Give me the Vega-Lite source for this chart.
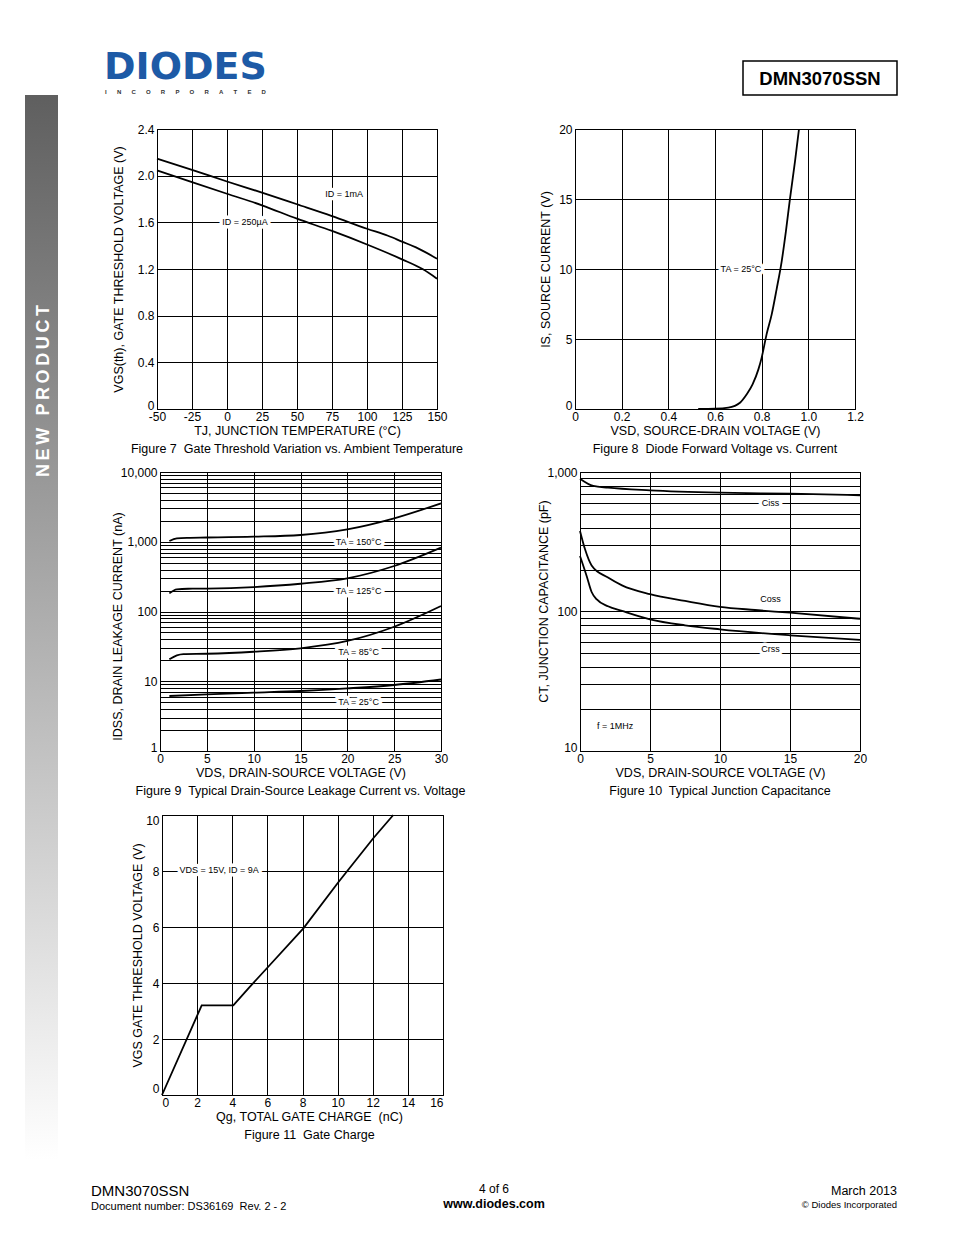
{
"$schema": "https://vega.github.io/schema/vega-lite/v6.json",
"padding": 0,
"background": "white",
"spacing": 0,
"datasets": {
"f7": [
{"s":"1mA","t":-50,"v":2.145},{"s":"1mA","t":-25,"v":2.05},{"s":"1mA","t":0,"v":1.95},{"s":"1mA","t":25,"v":1.855},{"s":"1mA","t":50,"v":1.755},{"s":"1mA","t":75,"v":1.654},{"s":"1mA","t":100,"v":1.545},{"s":"1mA","t":115,"v":1.485},{"s":"1mA","t":125,"v":1.435},{"s":"1mA","t":135,"v":1.385},{"s":"1mA","t":150,"v":1.288},
{"s":"250uA","t":-50,"v":2.046},{"s":"250uA","t":-25,"v":1.945},{"s":"250uA","t":0,"v":1.845},{"s":"250uA","t":25,"v":1.746},{"s":"250uA","t":50,"v":1.631},{"s":"250uA","t":75,"v":1.526},{"s":"250uA","t":100,"v":1.41},{"s":"250uA","t":125,"v":1.283},{"s":"250uA","t":140,"v":1.197},{"s":"250uA","t":150,"v":1.117}
],
"f7lab": [{"t":83.6,"v":1.843,"lab":"ID = 1mA"},{"t":12.9,"v":1.6,"lab":"ID = 250µA"}],
"f8": [
{"vsd":0.528,"is":0},{"vsd":0.6,"is":0.02},{"vsd":0.657,"is":0.1},{"vsd":0.707,"is":0.45},{"vsd":0.736,"is":1.05},{"vsd":0.761,"is":1.76},{"vsd":0.786,"is":2.83},{"vsd":0.8,"is":3.67},{"vsd":0.821,"is":5.33},{"vsd":0.843,"is":6.76},{"vsd":0.864,"is":8.55},{"vsd":0.886,"is":10.57},{"vsd":0.904,"is":12.7},{"vsd":0.921,"is":14.98},{"vsd":0.943,"is":17.7},{"vsd":0.96,"is":20}
],
"f8lab": [{"vsd":0.711,"is":10,"lab":"TA = 25°C"}],
"f9": [
{"s":"150","vds":1,"i":1025},{"s":"150","vds":1.8,"i":1120},{"s":"150","vds":3,"i":1140},{"s":"150","vds":5,"i":1150},{"s":"150","vds":10,"i":1181},{"s":"150","vds":15,"i":1250},{"s":"150","vds":20,"i":1507},{"s":"150","vds":25,"i":2168},{"s":"150","vds":30,"i":3556},
{"s":"125","vds":1,"i":182},{"s":"125","vds":1.8,"i":208},{"s":"125","vds":3,"i":212},{"s":"125","vds":5,"i":213},{"s":"125","vds":10,"i":224},{"s":"125","vds":15,"i":250},{"s":"125","vds":20,"i":299},{"s":"125","vds":25,"i":449},{"s":"125","vds":30,"i":822},
{"s":"85","vds":1,"i":20.6},{"s":"85","vds":1.8,"i":23.5},{"s":"85","vds":2.5,"i":24.5},{"s":"85","vds":5,"i":24.8},{"s":"85","vds":10,"i":26.5},{"s":"85","vds":15,"i":29.7},{"s":"85","vds":20,"i":37.8},{"s":"85","vds":25,"i":60.5},{"s":"85","vds":30,"i":120},
{"s":"25","vds":1,"i":6.15},{"s":"25","vds":5,"i":6.49},{"s":"25","vds":10,"i":6.86},{"s":"25","vds":15,"i":7.25},{"s":"25","vds":20,"i":7.9},{"s":"25","vds":25,"i":8.84},{"s":"25","vds":30,"i":10.6}
],
"f9lab": [{"vds":21.2,"i":1000,"lab":"TA = 150°C"},{"vds":21.2,"i":200,"lab":"TA = 125°C"},{"vds":21.2,"i":26,"lab":"TA = 85°C"},{"vds":21.2,"i":5,"lab":"TA = 25°C"}],
"f10": [
{"s":"Ciss","vds":0,"c":895},{"s":"Ciss","vds":0.95,"c":794},{"s":"Ciss","vds":2,"c":772},{"s":"Ciss","vds":5,"c":739},{"s":"Ciss","vds":10,"c":711},{"s":"Ciss","vds":15,"c":699},{"s":"Ciss","vds":20,"c":681},
{"s":"Coss","vds":0,"c":378},{"s":"Coss","vds":0.36,"c":279},{"s":"Coss","vds":0.83,"c":214},{"s":"Coss","vds":2,"c":175},{"s":"Coss","vds":3,"c":154},{"s":"Coss","vds":5,"c":133},{"s":"Coss","vds":7.5,"c":119},{"s":"Coss","vds":10,"c":108},{"s":"Coss","vds":12.5,"c":102.5},{"s":"Coss","vds":15,"c":98},{"s":"Coss","vds":20,"c":88.7},
{"s":"Crss","vds":0,"c":250},{"s":"Crss","vds":0.48,"c":179},{"s":"Crss","vds":0.83,"c":138},{"s":"Crss","vds":1.2,"c":122},{"s":"Crss","vds":2,"c":109},{"s":"Crss","vds":3,"c":101},{"s":"Crss","vds":5,"c":87.9},{"s":"Crss","vds":7.5,"c":79.6},{"s":"Crss","vds":10,"c":74.5},{"s":"Crss","vds":15,"c":67.5},{"s":"Crss","vds":20,"c":62.5}
],
"f10lab": [{"vds":13.6,"c":600,"lab":"Ciss"},{"vds":13.6,"c":123,"lab":"Coss"},{"vds":13.6,"c":54,"lab":"Crss"},{"vds":2.5,"c":15,"lab":"f = 1MHz"}],
"f11": [
{"q":0,"vgs":0},{"q":2.26,"vgs":3.2},{"q":4.06,"vgs":3.2},{"q":5.01,"vgs":3.87},{"q":6.05,"vgs":4.58},{"q":8.05,"vgs":5.95},{"q":10.04,"vgs":7.6},{"q":12.03,"vgs":9.17},{"q":13.17,"vgs":10}
],
"f11lab": [{"q":3.25,"vgs":8.05,"lab":"VDS = 15V, ID = 9A"}]
},
"hconcat": [
{"width":25,"height":1235,"data":{"values":[{}]},"mark":{"type":"text","text":""},"encoding":{}},
{"spacing":0,"vconcat":[
 {"width":33,"height":95,"data":{"values":[{}]},"mark":{"type":"text","text":""},"encoding":{}},
 {"width":33,"height":1095,"data":{"values":[{"t":"N\u2009E\u2009W\u2009 \u2009P\u2009R\u2009O\u2009D\u2009U\u2009C\u2009T"}]},
  "layer":[
   {"mark":{"type":"rect","strokeWidth":0,"fill":{"gradient":"linear","x1":0,"y1":0,"x2":0,"y2":1,"stops":[{"offset":0,"color":"#5f5f5f"},{"offset":0.9726,"color":"#ffffff"},{"offset":1,"color":"#ffffff"}]}},"encoding":{}},
   {"mark":{"type":"text","angle":270,"fontSize":18,"fontWeight":"bold","color":"#fff","baseline":"middle","align":"center","dx":251.5,"dy":2},"encoding":{"text":{"field":"t"}}}
  ]}
]},
{"spacing":0,"vconcat":[
 {"width":896,"height":49,"data":{"values":[{}]},"mark":{"type":"text","text":""},"encoding":{}},
 {"spacing":0,"bounds":"flush","hconcat":[
  {"width":45,"height":61,"data":{"values":[{}]},"mark":{"type":"text","text":""},"encoding":{}},
  {"width":165,"height":34,
   "layer":[
    {"data":{"values":[{"t":"DIODES"}]},"mark":{"type":"text","font":"DejaVu Sans","fontSize":38,"fontWeight":"bold","color":"#1d5aa6","baseline":"alphabetic","align":"center","dy":1},"encoding":{"text":{"field":"t"}}},
    {"data":{"values":[{"t":"I\u2003\u2002\u2009N\u2003\u2002\u2009C\u2003\u2002\u2009O\u2003\u2002\u2009R\u2003\u2002\u2009P\u2003\u2002\u2009O\u2003\u2002\u2009R\u2003\u2002\u2009A\u2003\u2002\u2009T\u2003\u2002\u2009E\u2003\u2002\u2009D"}]},"mark":{"type":"text","fontSize":6,"fontWeight":"bold","color":"#333","baseline":"alphabetic","align":"center","dy":16.3},"encoding":{"text":{"field":"t"}}}
   ]},
  {"width":475,"height":34,"data":{"values":[{}]},"mark":{"type":"text","text":""},"encoding":{}},
  {"width":154,"height":34,"view":{"stroke":"#000","strokeWidth":1.5},"data":{"values":[{"t":"DMN3070SSN"}]},"mark":{"type":"text","fontSize":18.5,"fontWeight":"bold","color":"#000","baseline":"middle","align":"center","dy":1},"encoding":{"text":{"field":"t"}}}
 ]},
 {"spacing":0,"bounds":"flush","hconcat":[
  {"width":99,"height":336,"data":{"values":[{}]},"mark":{"type":"text","text":""},"encoding":{}},
  {"width":280,"height":280,"view":{"stroke":"#000"},
   "title":{"text":"Figure 7\u00a0 Gate Threshold Variation vs. Ambient Temperature","orient":"bottom","anchor":"middle","frame":"group","offset":6,"fontSize":12.5,"fontWeight":"normal","color":"#000"},
   "encoding":{
    "x":{"field":"t","type":"quantitative","scale":{"domain":[-50,150],"nice":false,"zero":false},"axis":{"values":[-50,-25,0,25,50,75,100,125,150],"labelExpr":"datum.value < 0 ? '-' + abs(datum.value) : '' + datum.value","title":"TJ, JUNCTION TEMPERATURE (°C)"}},
    "y":{"field":"v","type":"quantitative","scale":{"domain":[0,2.4],"nice":false,"zero":false},"axis":{"values":[0,0.4,0.8,1.2,1.6,2,2.4],"labelExpr":"datum.value == 0 ? '0' : format(datum.value, '.1f')","labelBaseline":{"condition":{"test":"datum.value == 0","value":"alphabetic"},"value":"middle"},"title":"VGS(th), GATE THRESHOLD VOLTAGE (V)","titlePadding":12}}
   },
   "layer":[
    {"data":{"name":"f7"},"mark":{"type":"line","color":"#000","strokeWidth":1.8,"interpolate":"monotone"},"encoding":{"detail":{"field":"s"}}},
    {"data":{"name":"f7lab"},"mark":{"type":"text","fontSize":9,"color":"#fff","stroke":"#fff","strokeWidth":7,"strokeJoin":"round","baseline":"middle"},"encoding":{"text":{"field":"lab"}}},
    {"data":{"name":"f7lab"},"mark":{"type":"text","fontSize":9,"color":"#000","baseline":"middle"},"encoding":{"text":{"field":"lab"}}}
   ]},
  {"width":138,"height":280,"data":{"values":[{}]},"mark":{"type":"text","text":""},"encoding":{}},
  {"width":280,"height":280,"view":{"stroke":"#000"},
   "title":{"text":"Figure 8\u00a0 Diode Forward Voltage vs. Current","orient":"bottom","anchor":"middle","frame":"group","offset":6,"fontSize":12.5,"fontWeight":"normal","color":"#000"},
   "encoding":{
    "x":{"field":"vsd","type":"quantitative","scale":{"domain":[0,1.2],"nice":false,"zero":false},"axis":{"values":[0,0.2,0.4,0.6,0.8,1,1.2],"labelExpr":"datum.value == 0 ? '0' : format(datum.value, '.1f')","title":"VSD, SOURCE-DRAIN VOLTAGE (V)"}},
    "y":{"field":"is","type":"quantitative","scale":{"domain":[0,20],"nice":false,"zero":false},"axis":{"values":[0,5,10,15,20],"labelBaseline":{"condition":{"test":"datum.value == 0","value":"alphabetic"},"value":"middle"},"title":"IS, SOURCE CURRENT (V)","titlePadding":6.3}}
   },
   "layer":[
    {"data":{"name":"f8"},"mark":{"type":"line","color":"#000","strokeWidth":1.8,"interpolate":"monotone","clip":true},"encoding":{}},
    {"data":{"name":"f8lab"},"mark":{"type":"text","fontSize":9,"color":"#fff","stroke":"#fff","strokeWidth":7,"strokeJoin":"round","baseline":"middle"},"encoding":{"text":{"field":"lab"}}},
    {"data":{"name":"f8lab"},"mark":{"type":"text","fontSize":9,"color":"#000","baseline":"middle"},"encoding":{"text":{"field":"lab"}}}
   ]}
 ]},
 {"spacing":0,"bounds":"flush","hconcat":[
  {"width":102,"height":338,"data":{"values":[{}]},"mark":{"type":"text","text":""},"encoding":{}},
  {"width":281,"height":279,"view":{"stroke":"#000"},
   "title":{"text":"Figure 9\u00a0 Typical Drain-Source Leakage Current vs. Voltage","orient":"bottom","anchor":"middle","frame":"group","offset":6,"fontSize":12.5,"fontWeight":"normal","color":"#000"},
   "encoding":{
    "x":{"field":"vds","type":"quantitative","scale":{"domain":[0,30],"nice":false,"zero":false},"axis":{"values":[0,5,10,15,20,25,30],"title":"VDS, DRAIN-SOURCE VOLTAGE (V)"}},
    "y":{"field":"i","type":"quantitative","scale":{"type":"log","domain":[1,10000],"nice":false},"axis":{"values":[1,2,3,4,5,6,7,8,9,10,20,30,40,50,60,70,80,90,100,200,300,400,500,600,700,800,900,1000,2000,3000,4000,5000,6000,7000,8000,9000,10000],"labelExpr":"indexof([1,10,100,1000,10000], datum.value) >= 0 ? format(datum.value, ',') : ''","labelBaseline":{"condition":{"test":"datum.value == 1","value":"alphabetic"},"value":"middle"},"title":"IDSS, DRAIN LEAKAGE CURRENT (nA)","titlePadding":-3.8,"titleY":154}}
   },
   "layer":[
    {"data":{"name":"f9"},"mark":{"type":"line","color":"#000","strokeWidth":1.8,"interpolate":"monotone"},"encoding":{"detail":{"field":"s"}}},
    {"data":{"name":"f9lab"},"mark":{"type":"text","fontSize":9,"color":"#fff","stroke":"#fff","strokeWidth":7,"strokeJoin":"round","baseline":"middle"},"encoding":{"text":{"field":"lab"}}},
    {"data":{"name":"f9lab"},"mark":{"type":"text","fontSize":9,"color":"#000","baseline":"middle"},"encoding":{"text":{"field":"lab"}}}
   ]},
  {"width":139,"height":279,"data":{"values":[{}]},"mark":{"type":"text","text":""},"encoding":{}},
  {"width":280,"height":279,"view":{"stroke":"#000"},
   "title":{"text":"Figure 10\u00a0 Typical Junction Capacitance","orient":"bottom","anchor":"middle","frame":"group","offset":6,"fontSize":12.5,"fontWeight":"normal","color":"#000"},
   "encoding":{
    "x":{"field":"vds","type":"quantitative","scale":{"domain":[0,20],"nice":false,"zero":false},"axis":{"values":[0,5,10,15,20],"title":"VDS, DRAIN-SOURCE VOLTAGE (V)"}},
    "y":{"field":"c","type":"quantitative","scale":{"type":"log","domain":[10,1000],"nice":false},"axis":{"values":[10,20,30,40,50,60,70,80,90,100,200,300,400,500,600,700,800,900,1000],"labelExpr":"indexof([10,100,1000], datum.value) >= 0 ? format(datum.value, ',') : ''","labelBaseline":{"condition":{"test":"datum.value == 10","value":"alphabetic"},"value":"middle"},"title":"CT, JUNCTION CAPACITANCE (pF)","titlePadding":-3.7,"titleY":129}}
   },
   "layer":[
    {"data":{"name":"f10"},"mark":{"type":"line","color":"#000","strokeWidth":1.8,"interpolate":"monotone"},"encoding":{"detail":{"field":"s"}}},
    {"data":{"name":"f10lab"},"mark":{"type":"text","fontSize":9,"color":"#fff","stroke":"#fff","strokeWidth":7,"strokeJoin":"round","baseline":"middle"},"encoding":{"text":{"field":"lab"}}},
    {"data":{"name":"f10lab"},"mark":{"type":"text","fontSize":9,"color":"#000","baseline":"middle"},"encoding":{"text":{"field":"lab"}}}
   ]}
 ]},
 {"spacing":0,"bounds":"flush","hconcat":[
  {"width":104,"height":360,"data":{"values":[{}]},"mark":{"type":"text","text":""},"encoding":{}},
  {"width":281,"height":280,"view":{"stroke":"#000"},
   "title":{"text":"Figure 11\u00a0 Gate Charge","orient":"bottom","anchor":"middle","frame":"group","offset":6,"dx":7,"fontSize":12.5,"fontWeight":"normal","color":"#000"},
   "encoding":{
    "x":{"field":"q","type":"quantitative","scale":{"domain":[0,16],"nice":false,"zero":false},"axis":{"values":[0,2,4,6,8,10,12,14,16],"labelFlush":true,"title":"Qg, TOTAL GATE CHARGE\u00a0 (nC)","titleX":147}},
    "y":{"field":"vgs","type":"quantitative","scale":{"domain":[0,10],"nice":false,"zero":false},"axis":{"values":[0,2,4,6,8,10],"labelFlush":true,"title":"VGS GATE THRESHOLD VOLTAGE (V)","titlePadding":1.6}}
   },
   "layer":[
    {"data":{"name":"f11"},"mark":{"type":"line","color":"#000","strokeWidth":1.8,"interpolate":"linear"},"encoding":{}},
    {"data":{"name":"f11lab"},"mark":{"type":"text","fontSize":9,"color":"#fff","stroke":"#fff","strokeWidth":7,"strokeJoin":"round","baseline":"middle"},"encoding":{"text":{"field":"lab"}}},
    {"data":{"name":"f11lab"},"mark":{"type":"text","fontSize":9,"color":"#000","baseline":"middle"},"encoding":{"text":{"field":"lab"}}}
   ]}
 ]},
 {"spacing":0,"bounds":"flush","hconcat":[
  {"width":32,"height":60,"data":{"values":[{}]},"mark":{"type":"text","text":""},"encoding":{}},
  {"width":2,"height":60,
   "layer":[
    {"data":{"values":[{"t":"DMN3070SSN"}]},"mark":{"type":"text","fontSize":15,"color":"#000","align":"left","baseline":"alphabetic","dy":-9},"encoding":{"text":{"field":"t"}}},
    {"data":{"values":[{"t":"Document number: DS36169\u00a0 Rev. 2 - 2"}]},"mark":{"type":"text","fontSize":11,"color":"#000","align":"left","baseline":"alphabetic","dy":5},"encoding":{"text":{"field":"t"}}}
   ]},
  {"width":401,"height":60,"data":{"values":[{}]},"mark":{"type":"text","text":""},"encoding":{}},
  {"width":2,"height":60,
   "layer":[
    {"data":{"values":[{"t":"4 of 6"}]},"mark":{"type":"text","fontSize":12,"color":"#000","align":"center","baseline":"alphabetic","dy":-12},"encoding":{"text":{"field":"t"}}},
    {"data":{"values":[{"t":"www.diodes.com"}]},"mark":{"type":"text","fontSize":12.5,"fontWeight":"bold","color":"#000","align":"center","baseline":"alphabetic","dy":2.5},"encoding":{"text":{"field":"t"}}}
   ]},
  {"width":401,"height":60,"data":{"values":[{}]},"mark":{"type":"text","text":""},"encoding":{}},
  {"width":2,"height":60,
   "layer":[
    {"data":{"values":[{"t":"March 2013"}]},"mark":{"type":"text","fontSize":12.5,"color":"#000","align":"right","baseline":"alphabetic","dy":-10},"encoding":{"text":{"field":"t"}}},
    {"data":{"values":[{"t":"© Diodes Incorporated"}]},"mark":{"type":"text","fontSize":9.5,"color":"#000","align":"right","baseline":"alphabetic","dy":2.5},"encoding":{"text":{"field":"t"}}}
   ]}
 ]}
]}
],
"config": {
 "view": {"stroke": null},
 "font": "Liberation Sans",
 "axis": {"domainColor":"#000","domainWidth":1,"grid":true,"gridColor":"#000","gridOpacity":1,"gridWidth":1,"ticks":false,"tickSize":0,"labelColor":"#000","labelFontSize":12,"labelFont":"Liberation Sans","labelFlush":false,"labelOverlap":false,"titleColor":"#000","titleFontSize":12.5,"titleFontWeight":"normal","titleFont":"Liberation Sans"},
 "axisX": {"labelPadding": 2, "titlePadding": 2},
 "axisY": {"labelPadding": 3}
}
}
